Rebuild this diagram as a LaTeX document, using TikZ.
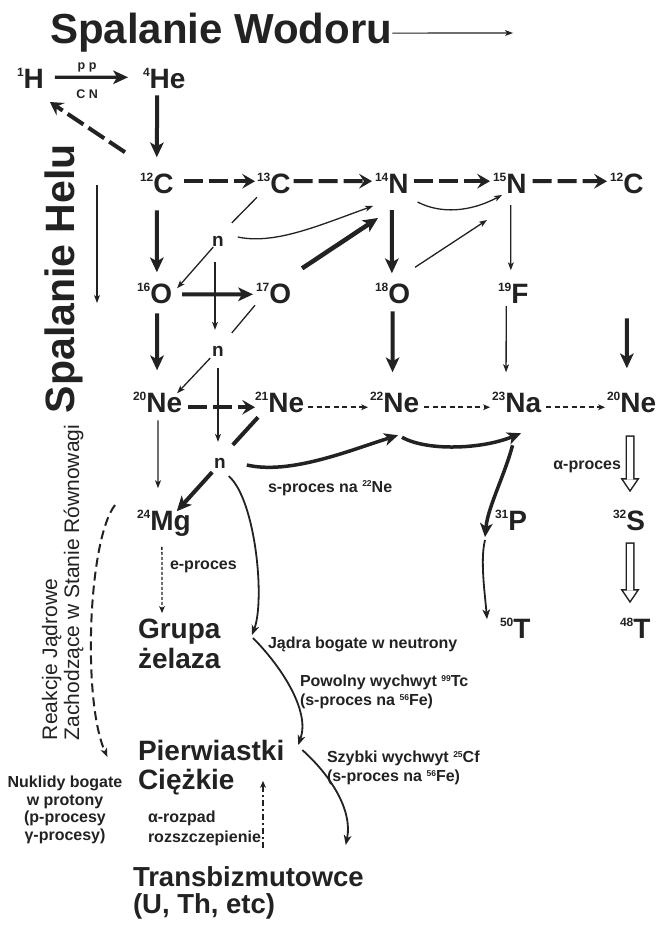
\documentclass[tikz,border=0pt]{standalone}
\usepackage{fontspec}
\setmainfont{Liberation Sans}
\usetikzlibrary{arrows.meta}
\definecolor{ink}{HTML}{222222}
\newcommand\nucsup[2]{\raisebox{11.4pt}{\fontsize{12}{12}\selectfont #1}#2}
\newcommand\smsup[1]{\raisebox{5.5pt}{\fontsize{8.5}{9}\selectfont #1}}
\begin{document}
\begin{tikzpicture}[x=1pt,y=-1pt,
  every node/.style={inner sep=0pt,outer sep=0pt,text=ink},
  nucl/.style={font=\fontsize{28}{30}\selectfont\bfseries,anchor=base west},
  neut/.style={font=\fontsize{19}{20}\selectfont\bfseries},
  lab/.style={font=\fontsize{16}{19}\selectfont\bfseries},
  big/.style={font=\fontsize{28}{29}\selectfont\bfseries,align=left,anchor=north west},
  thk/.style={draw=ink,line width=4pt,-{Stealth[length=15pt,width=14pt,inset=4pt,line width=0pt]}},
  thkline/.style={draw=ink,line width=4pt},
  cthk/.style={draw=ink,line width=3.5pt,-{Stealth[length=14pt,width=13pt,inset=4pt,line width=0pt]}},
  thn/.style={draw=ink,line width=1.3pt,-{Stealth[length=8pt,width=6pt,inset=2pt,line width=0pt]}},
  thnline/.style={draw=ink,line width=1.3pt},
  med/.style={draw=ink,line width=1.8pt,-{Stealth[length=10pt,width=8pt,inset=3pt,line width=0pt]}},
  dthk/.style={draw=ink,line width=4pt,dash pattern=on 19pt off 6pt,-{Stealth[length=13pt,width=15pt,inset=5pt,line width=0pt]}},
  dthn/.style={draw=ink,line width=1.6pt,dash pattern=on 5pt off 3.5pt,-{Stealth[length=7pt,width=6pt,inset=2pt,line width=0pt]}},
  edash/.style={draw=ink,line width=1.3pt,dash pattern=on 3pt off 2pt,-{Stealth[length=7pt,width=6pt,inset=2pt,line width=0pt]}},
  ddot/.style={draw=ink,line width=1.5pt,dash pattern=on 6pt off 3pt on 2pt off 3pt,-{Stealth[length=7pt,width=6pt,inset=2pt,line width=0pt]}},
  eqdash/.style={draw=ink,line width=2pt,dash pattern=on 9pt off 5pt,-{Stealth[length=9pt,width=7pt,inset=2.5pt,line width=0pt]}},
  hollowA/.style={draw=ink,line width=9pt,-{Triangle[length=14pt,width=19pt,line width=0pt]}},
  hollowB/.style={draw=white,line width=6pt,shorten <=1.5pt,shorten >=2.7pt,-{Triangle[length=9.8pt,width=13.3pt,line width=0pt]}}
]
\fill[white] (0,0) rectangle (660,926);
\useasboundingbox (0,0) rectangle (660,926);

% titles
\node[font=\fontsize{42}{44}\selectfont\bfseries,anchor=base west] (title) at (50,43) {Spalanie Wodoru};
\coordinate (tend) at (513,33);
\draw[thn,line width=1.2pt] ([shift={(0,1)}]title.east) -- (tend);

\node[font=\fontsize{41}{44}\selectfont\bfseries,rotate=90,anchor=base west] (helu) at (74,413) {Spalanie Helu};
\coordinate (hs) at (97,185);
\coordinate (hf) at (97,303);
\draw[thn,line width=1.2pt] (hs) -- (hf);

\node[font=\fontsize{21}{22}\selectfont,rotate=90,anchor=north west,align=left] (reak) at (42,740) {Reakcje Jądrowe\\Zachodzące w Stanie Równowagi};

% nuclides
\node[nucl] (h1) at (17,88) {\nucsup{1}{H}};
\node[nucl] (he4) at (143,88) {\nucsup{4}{He}};
\node[nucl] (c12) at (140,193) {\nucsup{12}{C}};
\node[nucl] (c13) at (257,193) {\nucsup{13}{C}};
\node[nucl] (n14) at (375,193) {\nucsup{14}{N}};
\node[nucl] (n15) at (493,193) {\nucsup{15}{N}};
\node[nucl] (c12b) at (610,193) {\nucsup{12}{C}};
\node[nucl] (o16) at (137,303) {\nucsup{16}{O}};
\node[nucl] (o17) at (256,303) {\nucsup{17}{O}};
\node[nucl] (o18) at (375,303) {\nucsup{18}{O}};
\node[nucl] (f19) at (498,303) {\nucsup{19}{F}};
\node[nucl] (ne20) at (133,412) {\nucsup{20}{Ne}};
\node[nucl] (ne21) at (255,412) {\nucsup{21}{Ne}};
\node[nucl] (ne22) at (370,412) {\nucsup{22}{Ne}};
\node[nucl] (na23) at (492,412) {\nucsup{23}{Na}};
\node[nucl] (ne20b) at (607,412) {\nucsup{20}{Ne}};
\node[nucl] (mg24) at (137,530) {\nucsup{24}{Mg}};
\node[nucl] (p31) at (495,530) {\nucsup{31}{P}};
\node[nucl] (s32) at (613,530) {\nucsup{32}{S}};
\node[nucl] (t50) at (500,638) {\nucsup{50}{T}};
\node[nucl] (t48) at (620,638) {\nucsup{48}{T}};

\node[neut] (n1) at (218,241) {n};
\node[neut] (n2) at (218,351) {n};
\node[neut] (n3) at (220,463) {n};

% big labels
\node[big,font=\fontsize{28}{30}\selectfont\bfseries] (grupa) at (138,619) {Grupa\\żelaza};
\node[big] (pierw) at (138,740) {Pierwiastki\\Ciężkie};
\node[big,font=\fontsize{27.5}{26.5}\selectfont\bfseries] (trans) at (133,867) {Transbizmutowce\\(U, Th, etc)};

% small labels
\node[lab,align=center,anchor=north,font=\fontsize{16}{17.5}\selectfont\bfseries] (nukl) at (65,776) {Nuklidy bogate\\w protony\\(p-procesy\\γ-procesy)};
\node[lab,align=left,anchor=north west,font=\fontsize{16}{19.5}\selectfont\bfseries] (rozp) at (148,811) {α-rozpad\\rozszczepienie};
\node[lab,anchor=base west] (eproc) at (170,569) {e-proces};
\node[lab,anchor=base west] (sproc) at (268,492) {s-proces na \smsup{22}Ne};
\node[lab,anchor=base east] (aproc) at (621,469) {α-proces};
\node[lab,anchor=base west] (jadra) at (268,648) {Jądra bogate w neutrony};
\node[lab,align=left,anchor=north west] (powol) at (300,675) {Powolny wychwyt \smsup{99}Tc\\(s-proces na \smsup{56}Fe)};
\node[lab,align=left,anchor=north west] (szyb) at (327,751) {Szybki wychwyt \smsup{25}Cf\\(s-proces na \smsup{56}Fe)};

% hydrogen burning
\draw[thk,line width=3.2pt] ([shift={(11,-1)}]h1.east) --
  node[pos=0.44,above=5pt,font=\fontsize{12.5}{13}\selectfont\bfseries] (pp) {p p}
  node[pos=0.44,below=13pt,font=\fontsize{12.5}{13}\selectfont\bfseries] (cn) {C N}
  ([shift={(-15,-1)}]he4.west);
\draw[thk] ([shift={(-7,7)}]he4.south) -- ([shift={(0,-16)}]c12.north);
\draw[dthk] ([shift={(-15,-21)}]c12.north west) -- ([shift={(6,14)}]h1.south east);

% CNO row
\draw[dthk] ([shift={(10,-2)}]c12.east) -- ([shift={(-2,-2)}]c13.west);
\draw[dthk] ([shift={(3,-2)}]c13.east) -- ([shift={(-3,-2)}]n14.west);
\draw[dthk] ([shift={(5,-2)}]n14.east) -- ([shift={(-3,-2)}]n15.west);
\draw[dthk] ([shift={(6,-2)}]n15.east) -- ([shift={(-3,-2)}]c12b.west);

% row 2 -> row 3
\draw[thk] ([shift={(0,17)}]c12.south) -- ([shift={(2.3,-11)}]o16.north);
\draw[thk] ([shift={(0,17)}]n14.south) -- ([shift={(-0.7,-10)}]o18.north);
\draw[thn] ([shift={(1,12)}]n15.south) -- ([shift={(-2.4,-13)}]f19.north);
\draw[thk] ([shift={(10,1)}]o16.east) -- ([shift={(-3,1)}]o17.west);
\draw[thk,line width=4.5pt] ([shift={(11,-15)}]o17.north east) -- ([shift={(3,25)}]n14.south west);
\draw[thn] ([shift={(5,-16)}]o18.north east) -- ([shift={(-6,27)}]n15.south west);
\draw[thn] ([shift={(9,9)}]n14.south east) .. controls +(23,12) and +(-32,17) .. ([shift={(9,2)}]n15.south west);

% neutrons
\draw[thnline] ([shift={(0,4)}]c13.south west) -- ([shift={(8,-13)}]n1.north east);
\draw[thn] ([shift={(1,1)}]n1.south west) -- ([shift={(5,5)}]o16.north east);
\draw[thn] ([shift={(14,-4)}]n1.east) .. controls +(37,8) and +(-53,19) .. ([shift={(-2,13)}]n14.south west);
\draw[thn] ([shift={(-3,16)}]n1.south) -- ([shift={(-3,-16)}]n2.north);
\draw[thnline] ([shift={(-1,2)}]o17.south west) -- ([shift={(8,-13)}]n2.north east);
\draw[thn] ([shift={(-2,2)}]n2.south west) -- ([shift={(-5,1)}]ne20.north east);
\draw[thn] ([shift={(0,12)}]n2.south) -- ([shift={(-2,-16)}]n3.north);
\draw[thkline] ([shift={(3,5)}]ne21.south west) -- ([shift={(7,-13)}]n3.north east);
\draw[thk] ([shift={(-2,4)}]n3.south west) -- ([shift={(-14,1)}]mg24.north east);
\draw[cthk] ([shift={(21,2)}]n3.east) .. controls +(43,10) and +(-48,15) .. ([shift={(28,23)}]ne22.south west);
\draw[cthk] ([shift={(32,25)}]ne22.south west) .. controls +(25,14) and +(-40,16) .. ([shift={(29,21)}]na23.south west);
\draw[cthk] ([shift={(-4,33)}]na23.south) .. controls +(-8,30) and +(3,-30) .. ([shift={(-10,7)}]p31.south west);
\draw[med] ([shift={(-10,10)}]p31.south west) .. controls +(-5,20) and +(-2,-25) .. ([shift={(-13,1)}]t50.north west);

% row 3 -> row 4
\draw[thk] ([shift={(2.5,10)}]o16.south) -- ([shift={(-0.5,-22)}]ne20.north);
\draw[thk] ([shift={(0,8)}]o18.south) -- ([shift={(-2,-20)}]ne22.north);
\draw[thn] ([shift={(-7,3)}]f19.south) -- ([shift={(-10.5,-20)}]na23.north);
\draw[thk] ([shift={(0,125)}]c12b.south) -- ([shift={(-4.7,-24)}]ne20b.north);

% Ne row
\draw[dthk] ([shift={(6,5)}]ne20.east) -- ([shift={(0,5)}]ne21.west);
\draw[dthn] ([shift={(4,5)}]ne21.east) -- ([shift={(-2,5)}]ne22.west);
\draw[dthn] ([shift={(5,5)}]ne22.east) -- ([shift={(-2,5)}]na23.west);
\draw[dthn] ([shift={(5,5)}]na23.east) -- ([shift={(-2,5)}]ne20b.west);

% below Ne
\draw[thn] ([shift={(0.5,8)}]ne20.south) -- ([shift={(21,-22)}]mg24.north west);
\draw[edash] ([shift={(-2,11)}]mg24.south) -- ([shift={(24,-6)}]grupa.north west);

% alpha process hollow arrows
\draw[hollowA] ([shift={(-1.5,23)}]ne20b.south) -- ([shift={(1,-18)}]s32.north);
\draw[hollowB] ([shift={(-1.5,23)}]ne20b.south) -- ([shift={(1,-18)}]s32.north);
\draw[hollowA] ([shift={(1,12)}]s32.south) -- ([shift={(-5.2,-15)}]t48.north);
\draw[hollowB] ([shift={(1,12)}]s32.south) -- ([shift={(-5.2,-15)}]t48.north);

% heavy elements
\draw[med] ([shift={(3,8)}]n3.south east) .. controls +(27,24) and +(13,-35) .. ([shift={(31.5,16)}]grupa.north east);
\draw[med] ([shift={(32.5,19)}]grupa.north east) .. controls +(27,27) and +(12,-35) .. ([shift={(14,5)}]pierw.north east);
\draw[med] ([shift={(18,10)}]pierw.north east) .. controls +(28,25) and +(7,-35) .. ([shift={(-18,-22)}]trans.north east);
\draw[ddot] ([shift={(130,-19)}]trans.north west) -- ([shift={(125,-14)}]pierw.south west);

% equilibrium
\coordinate (eqs) at (115,505);
\draw[eqdash] (eqs) .. controls +(-27,35) and +(-25,-57) .. ([shift={(-15,-19)}]nukl.north east);
\end{tikzpicture}
\end{document}
